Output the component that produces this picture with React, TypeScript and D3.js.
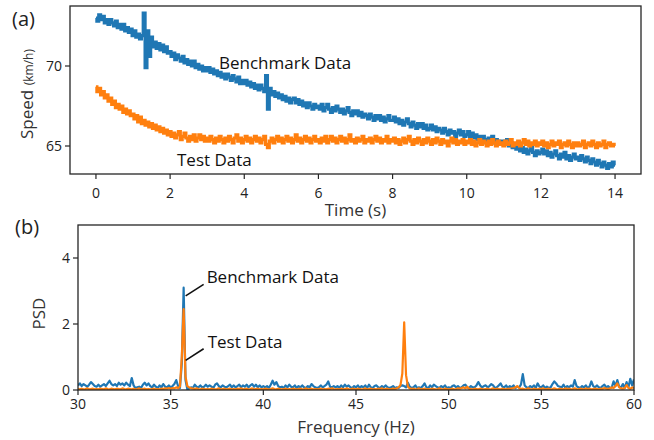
import React from 'react';
import * as d3 from 'd3';

// ---------- Data ----------
const timeStep = 0.05; // s
const benchmarkSpeed = [
  73.0, 72.8, 73.2, 72.9, 73.1, 72.7, 72.9, 72.6, 72.9, 72.7, 72.5, 72.8, 72.4, 72.6, 72.3, 72.6, 72.2, 72.4, 72.1, 72.3,
  71.9, 72.2, 71.8, 72.0, 71.7, 71.9, 73.3, 69.9, 72.2, 70.6, 71.8, 71.2, 71.5, 71.1, 71.4, 71.0, 71.3, 70.9, 71.2, 70.8,
  70.9, 70.6, 70.8, 70.4, 70.7, 70.5, 70.3, 70.6, 70.2, 70.4, 70.1, 70.3, 70.0, 70.3, 69.9, 70.1, 69.8, 70.0, 69.7, 69.9,
  69.7, 69.9, 69.6, 69.8, 69.5, 69.7, 69.4, 69.6, 69.3, 69.5, 69.2, 69.5, 69.3, 69.1, 69.4, 69.2, 69.0, 69.3, 68.9, 69.1,
  68.9, 69.1, 68.8, 69.0, 68.7, 68.9, 68.6, 68.8, 68.5, 68.8, 68.6, 68.4, 69.4, 67.3, 68.6, 68.2, 68.4, 68.1, 68.3, 68.0,
  68.2, 67.9, 68.1, 67.8, 68.0, 67.7, 67.9, 68.0, 67.7, 67.9, 67.6, 67.8, 67.5, 67.7, 67.4, 67.7, 67.5, 67.3, 67.6, 67.4,
  67.5, 67.3, 67.6, 67.2, 67.4, 67.6, 67.3, 67.1, 67.4, 67.2, 67.5, 67.3, 67.1, 67.3, 67.0, 67.2, 67.4, 67.1, 66.9, 67.2,
  67.0, 67.2, 66.9, 67.1, 66.8, 67.0, 66.9, 66.7, 67.0, 66.8, 66.6, 66.9, 66.7, 66.9, 66.6, 66.8, 66.5, 66.7, 66.9, 66.6,
  66.6, 66.8, 66.5, 66.7, 66.4, 66.6, 66.3, 66.5, 66.7, 66.4, 66.2, 66.5, 66.3, 66.1, 66.4, 66.2, 66.4, 66.1, 66.3, 66.0,
  66.1, 66.3, 66.0, 66.2, 65.9, 66.1, 66.0, 65.8, 66.1, 65.9, 65.7, 66.0, 65.8, 65.9, 65.6, 65.8, 66.0, 65.7, 65.9, 65.6,
  65.7, 65.9, 65.6, 65.8, 65.5, 65.7, 65.4, 65.6, 65.3, 65.6, 65.4, 65.2, 65.5, 65.3, 65.6, 65.2, 65.4, 65.1, 65.3, 65.2,
  65.3, 65.1, 65.4, 65.0, 65.2, 64.9, 65.1, 64.8, 65.0, 64.7, 64.9, 64.6, 64.8, 64.5, 64.7, 64.9, 64.6, 64.4, 64.7, 64.5,
  64.6, 64.8, 64.5, 64.7, 64.4, 64.6, 64.3, 64.5, 64.7, 64.4, 64.2, 64.5, 64.3, 64.6, 64.2, 64.4, 64.1, 64.3, 64.5, 64.2,
  64.3, 64.1, 64.4, 64.2, 64.0, 64.3, 64.1, 63.9, 64.2, 64.0, 63.8, 64.1, 63.9, 63.7, 64.0, 63.8, 63.6, 63.9, 63.7, 64.0,
  63.8,
];
const testSpeed = [
  68.7, 68.4, 68.6, 68.2, 68.4, 68.0, 68.2, 67.8, 68.0, 67.6, 67.8, 67.4, 67.6, 67.3, 67.5, 67.1, 67.3, 67.0, 67.2, 66.9,
  67.0, 66.7, 66.9, 66.5, 66.8, 66.4, 66.6, 66.3, 66.5, 66.2, 66.4, 66.1, 66.3, 66.0, 66.2, 65.9, 66.1, 65.8, 66.0, 65.7,
  65.9, 65.6, 65.8, 65.5, 65.7, 65.9, 65.4, 65.6, 65.8, 65.5, 65.3, 65.6, 65.4, 65.7, 65.3, 65.5, 65.7, 65.4, 65.6, 65.3,
  65.5, 65.3, 65.6, 65.4, 65.2, 65.5, 65.3, 65.6, 65.4, 65.2, 65.5, 65.3, 65.6, 65.4, 65.2, 65.5, 65.7, 65.3, 65.5, 65.2,
  65.4, 65.6, 65.3, 65.5, 65.2, 65.4, 65.6, 65.3, 65.5, 65.2, 65.4, 65.6, 65.1, 64.9, 65.3, 65.5, 65.2, 65.4, 65.6, 65.3,
  65.5, 65.2, 65.4, 65.6, 65.3, 65.5, 65.2, 65.4, 65.7, 65.3, 65.5, 65.2, 65.4, 65.6, 65.3, 65.5, 65.2, 65.4, 65.6, 65.3,
  65.4, 65.2, 65.5, 65.3, 65.6, 65.2, 65.4, 65.6, 65.3, 65.5, 65.2, 65.4, 65.6, 65.3, 65.5, 65.2, 65.4, 65.7, 65.3, 65.4,
  65.2, 65.5, 65.3, 65.4, 65.6, 65.2, 65.4, 65.3, 65.5, 65.2, 65.4, 65.6, 65.3, 65.5, 65.2, 65.4, 65.3, 65.6, 65.2, 65.4,
  65.3, 65.5, 65.2, 65.4, 65.1, 65.3, 65.5, 65.2, 65.4, 65.6, 65.3, 65.1, 65.4, 65.2, 65.5, 65.3, 65.1, 65.4, 65.2, 65.5,
  65.3, 65.1, 65.4, 65.2, 65.5, 65.3, 65.1, 65.4, 65.2, 65.3, 65.0, 65.3, 65.5, 65.2, 65.4, 65.1, 65.3, 65.2, 65.4, 65.1,
  65.3, 65.2, 65.4, 65.1, 65.3, 65.0, 65.2, 65.4, 65.1, 65.3, 65.2, 65.0, 65.3, 65.1, 65.4, 65.2, 65.0, 65.3, 65.1, 65.2,
  65.0, 65.3, 65.1, 65.2, 65.4, 65.0, 65.2, 65.1, 65.3, 65.0, 65.2, 65.4, 65.1, 65.3, 65.0, 65.2, 65.1, 65.3, 65.0, 65.2,
  65.1, 65.3, 65.0, 65.2, 64.9, 65.1, 65.3, 65.0, 65.2, 65.1, 65.3, 64.9, 65.1, 65.2, 65.0, 65.3, 65.1, 64.9, 65.2, 65.0,
  65.2, 65.0, 65.1, 65.3, 64.9, 65.1, 65.2, 65.0, 65.3, 65.1, 64.9, 65.2, 65.0, 65.1, 65.3, 64.9, 65.1, 65.2, 65.0, 65.1,
  65.0,
];

const freqStart = 30; // Hz
const freqStep = 0.1; // Hz
const benchmarkPSD = [
  0.14, 0.20, 0.12, 0.18, 0.14, 0.10, 0.16, 0.24, 0.18, 0.12,
  0.10, 0.16, 0.10, 0.14, 0.18, 0.12, 0.20, 0.28, 0.18, 0.14,
  0.18, 0.12, 0.22, 0.16, 0.20, 0.14, 0.22, 0.16, 0.12, 0.36,
  0.14, 0.06, 0.08, 0.10, 0.06, 0.16, 0.22, 0.14, 0.20, 0.12,
  0.08, 0.16, 0.10, 0.06, 0.14, 0.08, 0.18, 0.10, 0.08, 0.14,
  0.08, 0.12, 0.18, 0.30, 0.12, 0.06, 0.80, 3.10, 0.30, 0.02,
  0.04, 0.08, 0.06, 0.16, 0.10, 0.08, 0.14, 0.08, 0.10, 0.16,
  0.10, 0.14, 0.10, 0.06, 0.16, 0.20, 0.12, 0.08, 0.14, 0.10,
  0.08, 0.12, 0.16, 0.08, 0.14, 0.08, 0.12, 0.16, 0.08, 0.14,
  0.10, 0.16, 0.08, 0.14, 0.18, 0.10, 0.16, 0.08, 0.14, 0.08,
  0.12, 0.08, 0.12, 0.06, 0.16, 0.28, 0.16, 0.24, 0.12, 0.08,
  0.10, 0.06, 0.14, 0.08, 0.16, 0.10, 0.08, 0.14, 0.06, 0.12,
  0.08, 0.14, 0.08, 0.06, 0.12, 0.08, 0.18, 0.12, 0.08, 0.06,
  0.08, 0.14, 0.08, 0.12, 0.16, 0.26, 0.10, 0.08, 0.12, 0.08,
  0.12, 0.06, 0.14, 0.08, 0.16, 0.10, 0.14, 0.08, 0.06, 0.12,
  0.08, 0.14, 0.06, 0.12, 0.08, 0.14, 0.06, 0.16, 0.08, 0.06,
  0.12, 0.14, 0.08, 0.06, 0.12, 0.08, 0.14, 0.08, 0.06, 0.08,
  0.12, 0.06, 0.08, 0.06, 0.12, 0.14, 0.12, 0.08, 0.22, 0.10,
  0.06, 0.08, 0.14, 0.06, 0.08, 0.06, 0.12, 0.20, 0.08, 0.06,
  0.14, 0.08, 0.16, 0.12, 0.08, 0.06, 0.12, 0.08, 0.14, 0.06,
  0.08, 0.06, 0.12, 0.14, 0.08, 0.12, 0.06, 0.08, 0.14, 0.16,
  0.08, 0.06, 0.12, 0.08, 0.08, 0.14, 0.24, 0.14, 0.08, 0.12,
  0.14, 0.08, 0.12, 0.18, 0.14, 0.06, 0.08, 0.14, 0.20, 0.10,
  0.08, 0.14, 0.06, 0.12, 0.08, 0.14, 0.06, 0.10, 0.08, 0.16,
  0.48, 0.14, 0.08, 0.06, 0.12, 0.08, 0.14, 0.06, 0.20, 0.10,
  0.08, 0.14, 0.06, 0.10, 0.06, 0.08, 0.18, 0.26, 0.20, 0.12,
  0.10, 0.08, 0.16, 0.06, 0.12, 0.08, 0.14, 0.10, 0.30, 0.12,
  0.08, 0.06, 0.12, 0.08, 0.14, 0.06, 0.10, 0.26, 0.12, 0.08,
  0.14, 0.08, 0.06, 0.12, 0.16, 0.08, 0.12, 0.06, 0.08, 0.26,
  0.12, 0.30, 0.10, 0.08, 0.18, 0.06, 0.24, 0.08, 0.34, 0.14,
  0.32,
];
const testPSD = [
  0.03, 0.02, 0.04, 0.02, 0.03, 0.05, 0.02, 0.03, 0.04, 0.02,
  0.03, 0.02, 0.04, 0.03, 0.02, 0.05, 0.03, 0.02, 0.04, 0.03,
  0.02, 0.04, 0.03, 0.02, 0.05, 0.03, 0.02, 0.04, 0.03, 0.02,
  0.04, 0.02, 0.03, 0.05, 0.02, 0.03, 0.04, 0.02, 0.03, 0.02,
  0.03, 0.04, 0.02, 0.03, 0.02, 0.04, 0.03, 0.05, 0.04, 0.06,
  0.04, 0.06, 0.05, 0.08, 0.06, 0.10, 1.00, 2.45, 0.40, 0.12,
  0.08, 0.05, 0.04, 0.03, 0.05, 0.03, 0.02, 0.04, 0.03, 0.02,
  0.03, 0.02, 0.04, 0.03, 0.02, 0.03, 0.05, 0.02, 0.03, 0.04,
  0.02, 0.03, 0.04, 0.02, 0.03, 0.02, 0.04, 0.03, 0.05, 0.02,
  0.03, 0.04, 0.02, 0.03, 0.05, 0.02, 0.03, 0.04, 0.02, 0.03,
  0.02, 0.04, 0.03, 0.02, 0.03, 0.05, 0.03, 0.02, 0.04, 0.03,
  0.02, 0.03, 0.04, 0.02, 0.03, 0.02, 0.04, 0.03, 0.02, 0.03,
  0.04, 0.02, 0.03, 0.05, 0.02, 0.03, 0.04, 0.02, 0.03, 0.02,
  0.03, 0.04, 0.02, 0.03, 0.02, 0.04, 0.03, 0.05, 0.03, 0.02,
  0.03, 0.02, 0.04, 0.03, 0.02, 0.05, 0.03, 0.02, 0.04, 0.03,
  0.02, 0.04, 0.03, 0.02, 0.03, 0.05, 0.02, 0.03, 0.04, 0.02,
  0.03, 0.02, 0.04, 0.03, 0.05, 0.02, 0.03, 0.04, 0.02, 0.03,
  0.04, 0.03, 0.05, 0.08, 0.15, 0.50, 2.05, 0.45, 0.10, 0.05,
  0.03, 0.04, 0.02, 0.03, 0.05, 0.02, 0.03, 0.04, 0.02, 0.03,
  0.02, 0.04, 0.03, 0.02, 0.03, 0.05, 0.03, 0.02, 0.04, 0.03,
  0.02, 0.03, 0.04, 0.02, 0.03, 0.05, 0.04, 0.06, 0.08, 0.05,
  0.10, 0.04, 0.03, 0.02, 0.04, 0.03, 0.02, 0.04, 0.03, 0.02,
  0.03, 0.04, 0.02, 0.03, 0.05, 0.02, 0.04, 0.03, 0.02, 0.04,
  0.03, 0.02, 0.04, 0.03, 0.05, 0.06, 0.08, 0.12, 0.06, 0.03,
  0.04, 0.02, 0.03, 0.05, 0.03, 0.02, 0.04, 0.03, 0.02, 0.04,
  0.03, 0.05, 0.02, 0.03, 0.04, 0.02, 0.03, 0.05, 0.03, 0.02,
  0.04, 0.03, 0.02, 0.05, 0.03, 0.04, 0.02, 0.03, 0.05, 0.03,
  0.02, 0.04, 0.03, 0.02, 0.05, 0.03, 0.04, 0.02, 0.03, 0.04,
  0.03, 0.02, 0.04, 0.03, 0.06, 0.04, 0.03, 0.05, 0.08, 0.06,
  0.12, 0.20, 0.08, 0.05, 0.04, 0.06, 0.15, 0.06, 0.04, 0.08,
  0.05,
];

const timeTicks = [0, 2, 4, 6, 8, 10, 12, 14];
const speedTicks = [65, 70];
const freqTicks = [30, 35, 40, 45, 50, 55, 60];
const psdTicks = [0, 2, 4];

const BLUE = '#1f77b4';
const ORANGE = '#ff7f0e';
const FONT = '"Open Sans", "Noto Sans", sans-serif';
const AXIS = '#262626';

export default function App() {
  // Panel (a)
  const a = { left: 70, right: 641, top: 6, bottom: 174 };
  const xT = d3.scaleLinear().domain([-0.7, 14.7]).range([a.left, a.right]);
  const yS = d3.scaleLinear().domain([63.25, 73.75]).range([a.bottom, a.top]);
  const speedLine = d3
    .line<number>()
    .x((_, i) => xT(i * timeStep))
    .y((d) => yS(d))
    .curve(d3.curveStep);

  // Panel (b)
  const b = { left: 78, right: 634, top: 225, bottom: 390 };
  const xF = d3.scaleLinear().domain([30, 60]).range([b.left, b.right]);
  const yP = d3.scaleLinear().domain([0, 5]).range([b.bottom, b.top]);
  const psdLine = d3
    .line<number>()
    .x((_, i) => xF(freqStart + i * freqStep))
    .y((d) => yP(d));

  const peakF = 35.7;

  return (
    <svg
      width={654}
      height={440}
      style={{ position: 'fixed', left: 0, top: 0, background: '#fff' }}
      fontFamily={FONT}
    >
      <defs>
        <clipPath id="clipA">
          <rect x={a.left} y={a.top} width={a.right - a.left} height={a.bottom - a.top} />
        </clipPath>
        <clipPath id="clipB">
          <rect x={b.left} y={b.top - 2} width={b.right - b.left} height={b.bottom - b.top + 2} />
        </clipPath>
      </defs>

      {/* ---------- Panel (a) ---------- */}
      <text x={12} y={26} fontSize={20} fill="#222">(a)</text>
      <g clipPath="url(#clipA)">
        <path d={speedLine(benchmarkSpeed) || ''} fill="none" stroke={BLUE} strokeWidth={3.2} strokeLinejoin="miter" />
        <path d={speedLine(testSpeed) || ''} fill="none" stroke={ORANGE} strokeWidth={3.2} strokeLinejoin="miter" />
      </g>
      <rect x={a.left} y={a.top} width={a.right - a.left} height={a.bottom - a.top} fill="none" stroke={AXIS} strokeWidth={1.3} />
      {timeTicks.map((t) => (
        <g key={'tt' + t}>
          <line x1={xT(t)} x2={xT(t)} y1={a.bottom} y2={a.bottom + 5} stroke={AXIS} strokeWidth={1.2} />
          <text x={xT(t)} y={a.bottom + 24} fontSize={14} textAnchor="middle" fill="#222">{t}</text>
        </g>
      ))}
      {speedTicks.map((s) => (
        <g key={'st' + s}>
          <line x1={a.left - 5} x2={a.left} y1={yS(s)} y2={yS(s)} stroke={AXIS} strokeWidth={1.2} />
          <text x={a.left - 8} y={yS(s) + 5} fontSize={14} textAnchor="end" fill="#222">{s}</text>
        </g>
      ))}
      <text x={(a.left + a.right) / 2} y={216} fontSize={17} textAnchor="middle" fill="#333">Time (s)</text>
      <text transform={`translate(33, ${(a.top + a.bottom) / 2 + 4}) rotate(-90)`} textAnchor="middle" fill="#333">
        <tspan fontSize={17}>Speed </tspan>
        <tspan fontSize={12}>(km/h)</tspan>
      </text>
      <text x={219} y={69} fontSize={17} fill="#111">Benchmark Data</text>
      <text x={177} y={166} fontSize={17} fill="#111">Test Data</text>

      {/* ---------- Panel (b) ---------- */}
      <rect x={0} y={220} width={654} height={8} fill="#fff" />
      <text x={15} y={234} fontSize={20} fill="#222">(b)</text>
      <g clipPath="url(#clipB)">
        <path d={psdLine(benchmarkPSD) || ''} fill="none" stroke={BLUE} strokeWidth={2.2} strokeLinejoin="round" />
        <path d={psdLine(testPSD) || ''} fill="none" stroke={ORANGE} strokeWidth={2.2} strokeLinejoin="round" />
      </g>
      <rect x={b.left} y={b.top} width={b.right - b.left} height={b.bottom - b.top} fill="none" stroke={AXIS} strokeWidth={1.3} />
      {freqTicks.map((f) => (
        <g key={'ft' + f}>
          <line x1={xF(f)} x2={xF(f)} y1={b.bottom} y2={b.bottom + 5} stroke={AXIS} strokeWidth={1.2} />
          <text x={xF(f)} y={b.bottom + 19} fontSize={14} textAnchor="middle" fill="#222">{f}</text>
        </g>
      ))}
      {psdTicks.map((p) => (
        <g key={'pt' + p}>
          <line x1={b.left - 5} x2={b.left} y1={yP(p)} y2={yP(p)} stroke={AXIS} strokeWidth={1.2} />
          <text x={b.left - 8} y={yP(p) + 5} fontSize={14} textAnchor="end" fill="#222">{p}</text>
        </g>
      ))}
      <text x={(b.left + b.right) / 2} y={433} fontSize={17} textAnchor="middle" fill="#333">Frequency (Hz)</text>
      <text transform={`translate(45, ${(b.top + b.bottom) / 2 + 6}) rotate(-90)`} fontSize={17} textAnchor="middle" fill="#333">PSD</text>

      {/* annotations */}
      <line x1={xF(peakF) + 2} y1={yP(2.85)} x2={xF(peakF) + 20} y2={yP(3.2)} stroke="#111" strokeWidth={1.6} />
      <text x={xF(peakF) + 23} y={yP(3.42) + 6} fontSize={17} fill="#111">Benchmark Data</text>
      <line x1={xF(peakF) + 2} y1={yP(0.9)} x2={xF(peakF) + 20} y2={yP(1.25)} stroke="#111" strokeWidth={1.6} />
      <text x={xF(peakF) + 24} y={yP(1.45) + 6} fontSize={17} fill="#111">Test Data</text>
    </svg>
  );
}
